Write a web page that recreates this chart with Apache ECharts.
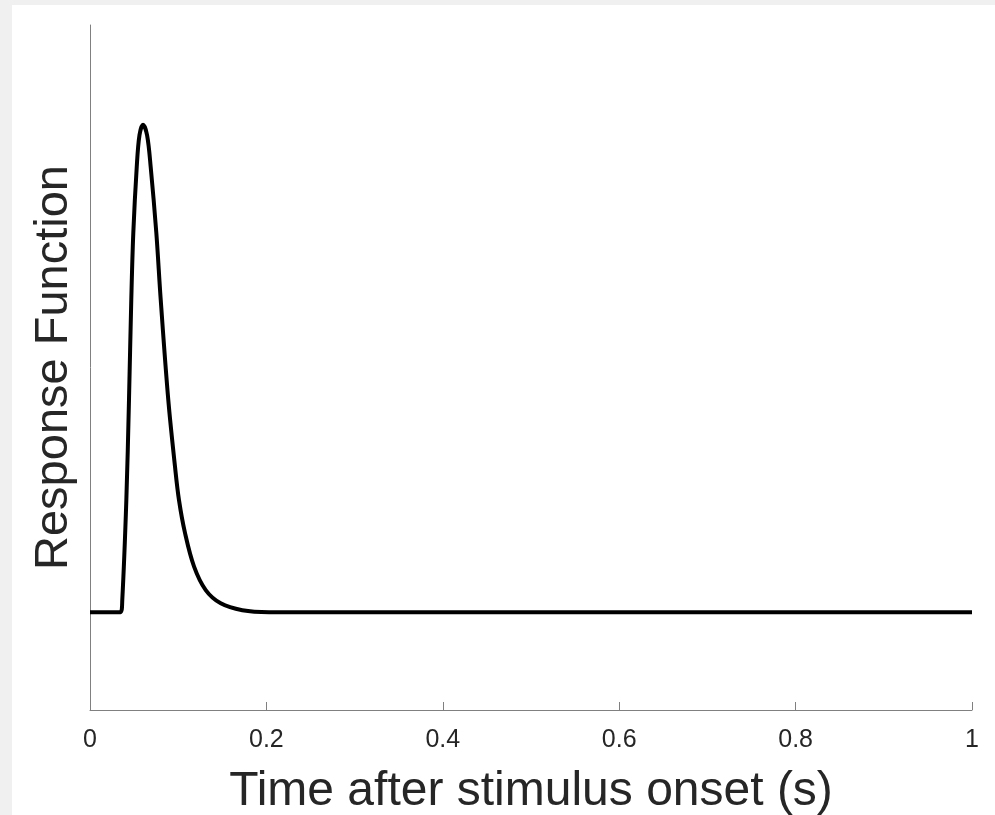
<!DOCTYPE html>
<html style="height: 100%">
  <head>
    <meta charset="utf-8" />
  </head>
  <body style="height: 100%; margin: 0; background: #f0f0f0">
    <div
      id="container"
      style="position: absolute; left: 12px; top: 5px; width: 983px; height: 810px; background: #fff"
    ></div>
    <script
      type="text/javascript"
      src="https://cdn.jsdelivr.net/npm/echarts@6/dist/echarts.min.js"
    ></script>
    <script type="text/javascript">
      // time after onset (s)
      var timeS = [
        0, 0.0346, 0.0366, 0.0412, 0.0442, 0.0468, 0.0491, 0.053, 0.0561, 0.0601,
        0.0647, 0.0688, 0.0752, 0.0802, 0.0888, 0.0964, 0.1009, 0.1077, 0.118,
        0.1312, 0.1482, 0.1727, 0.203, 1
      ];
      // response function (arbitrary units, peak ~1)
      var response = [
        0, 0, 0.025, 0.229, 0.433, 0.638, 0.775, 0.91, 0.975, 0.996,
        0.975, 0.91, 0.775, 0.638, 0.433, 0.297, 0.229, 0.162, 0.093,
        0.045, 0.018, 0.004, 0, 0
      ];
      var xTicks = [0, 0.2, 0.4, 0.6, 0.8, 1];

      var points = [];
      for (var i = 0; i < timeS.length; i++) {
        points.push([timeS[i], response[i]]);
      }

      var dom = document.getElementById('container');
      var myChart = echarts.init(dom);
      var font = "'Liberation Sans', Arial, sans-serif";

      var option = {
        animation: false,
        backgroundColor: '#fff',
        grid: { left: 78, right: 23, top: 20, bottom: 105, outerBoundsMode: 'none', containLabel: false },
        xAxis: {
          type: 'value',
          min: xTicks[0],
          max: xTicks[xTicks.length - 1],
          interval: 0.2,
          name: 'Time after stimulus onset (s)',
          nameLocation: 'middle',
          nameGap: 58,
          nameTextStyle: { fontFamily: font, fontSize: 48, color: '#262626' },
          axisLine: { onZero: false, lineStyle: { color: '#808080', width: 1 } },
          axisTick: { inside: true, length: 8, lineStyle: { color: '#808080' } },
          axisLabel: {
            fontFamily: font,
            fontSize: 25,
            color: '#262626',
            margin: 18,
            formatter: function (v) { return String(+v.toFixed(1)); }
          },
          splitLine: { show: false }
        },
        yAxis: {
          type: 'value',
          min: -0.2,
          max: 1.2,
          name: 'Response Function',
          nameLocation: 'middle',
          nameGap: 12,
          nameTextStyle: { fontFamily: font, fontSize: 47, color: '#262626' },
          axisLine: { show: true, onZero: false, lineStyle: { color: '#808080', width: 1 } },
          axisTick: { show: false },
          axisLabel: { show: false },
          splitLine: { show: false }
        },
        series: [
          {
            type: 'line',
            data: points,
            symbol: 'none',
            smooth: 0.35,
            lineStyle: { color: '#000', width: 4 }
          }
        ]
      };

      myChart.setOption(option);
    </script>
  </body>
</html>
